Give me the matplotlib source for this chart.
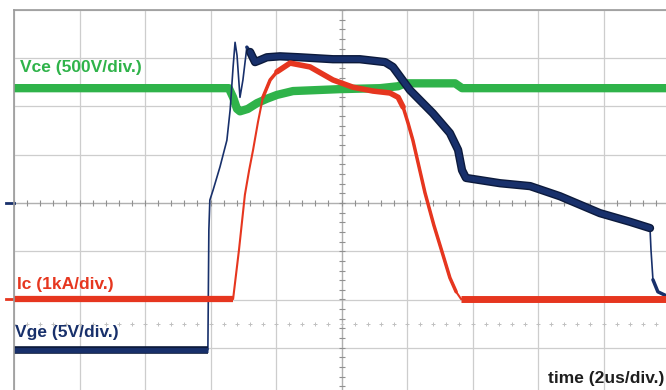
import matplotlib.pyplot as plt
import numpy as np

plt.rcParams['font.family'] = ['Liberation Sans', 'DejaVu Sans']

# time in us (2 us/div), amplitude in divisions (0 = screen centre)
t_vce = [0, 6.56, 6.69, 6.81, 6.90, 7.14, 7.42, 7.72, 8.03, 8.52, 9.95,
         11.18, 11.73, 11.94, 13.47, 13.68, 20]
v_vce = [2.38, 2.38, 2.19, 1.95, 1.90, 1.95, 2.07, 2.16, 2.24, 2.32, 2.36,
         2.38, 2.42, 2.48, 2.48, 2.38, 2.38]

t_ic = [0, 6.69, 6.87, 7.05, 7.18, 7.30, 7.45, 7.60, 7.82, 8.03, 8.43, 9.04,
        9.74, 10.35, 10.96, 11.48, 11.73, 11.88, 12.03, 12.18, 12.55, 12.82,
        13.10, 13.31, 13.50, 13.65, 20]
v_ic = [-1.99, -1.99, -0.97, 0.17, 0.68, 1.10, 1.68, 2.19, 2.55, 2.72, 2.90,
        2.82, 2.55, 2.40, 2.32, 2.28, 2.19, 1.99, 1.66, 1.30, 0.21, -0.46,
        -1.08, -1.55, -1.84, -1.99, -1.99]

t_vge = [0, 5.92, 5.95, 5.98, 6.08, 6.29, 6.50, 6.60, 6.69, 6.75, 6.81, 6.90,
         6.99, 7.11, 7.21, 7.36, 7.51, 7.72, 8.12, 8.73, 9.74, 10.56, 11.33,
         11.57, 12.09, 12.79, 13.31, 13.56, 13.68, 13.80, 14.84, 15.76, 16.67,
         17.89, 18.81, 19.42, 19.45, 19.51, 19.66, 20]
v_vge = [-3.04, -3.04, -0.56, 0.06, 0.27, 0.75, 1.30, 1.93, 2.82, 3.33, 3.06,
         2.19, 2.55, 3.23, 3.13, 2.92, 2.96, 3.02, 3.04, 3.02, 2.98, 2.98,
         2.92, 2.82, 2.34, 1.86, 1.45, 1.10, 0.68, 0.52, 0.41, 0.35, 0.14,
         -0.21, -0.39, -0.52, -0.97, -1.59, -1.84, -1.95]

green = '#2fb34a'
red = '#e6361f'
navy = '#18306b'

fig = plt.figure(figsize=(6.66, 3.9), dpi=100)
ax = fig.add_axes([14/666, -6/390, 655/666, 386/390])
ax.set_xlim(0, 20)
ax.set_ylim(-4, 4)

# graticule
ax.set_xticks(np.arange(0, 21, 2))
ax.set_yticks(np.arange(-4, 5, 1))
ax.grid(True, color='#cdcdcd', lw=0.9)
ax.tick_params(length=0, labelbottom=False, labelleft=False)
for s in ['right', 'bottom']:
    ax.spines[s].set_visible(False)
for s in ['top', 'left']:
    ax.spines[s].set_color('#9a9a9a')
    ax.spines[s].set_linewidth(1.2)

ax.axhline(0, color='#b0b0b0', lw=0.9)
ax.axvline(10, color='#b0b0b0', lw=0.9)
mx = np.arange(0, 20.01, 0.4)
ax.plot(mx, np.zeros_like(mx), '|', color='#909090', ms=4, mew=0.8)
my = np.arange(-4, 4.01, 0.2)
ax.plot(np.full_like(my, 10), my, '_', color='#909090', ms=4, mew=0.8)
ax.plot(mx, np.full_like(mx, -2.5), '+', color='#c0c0c0', ms=3, mew=0.7)

t_vce, v_vce = np.array(t_vce), np.array(v_vce)
t_ic, v_ic = np.array(t_ic), np.array(v_ic)
t_vge, v_vge = np.array(t_vge), np.array(v_vge)

kw = dict(solid_capstyle='round', solid_joinstyle='round')

# Vce
ax.plot(t_vce, v_vce, color=green, lw=6, **kw)

# Vge
ax.plot(t_vge, v_vge, color=navy, lw=1.2, **kw)
ax.plot(t_vge[:2], v_vge[:2], color='#0c1a3c', lw=5.5, solid_capstyle='butt')
ax.plot(t_vge[:2], v_vge[:2], color=navy, lw=3.5, solid_capstyle='butt')
ax.plot(t_vge[13:15], v_vge[13:15], color=navy, lw=2.5, **kw)
ax.plot(t_vge[14:36], v_vge[14:36], color='#0c1a3c', lw=6, **kw)
ax.plot(t_vge[14:36], v_vge[14:36], color=navy, lw=4, **kw)
ax.plot(t_vge[-3:], v_vge[-3:], color=navy, lw=2.5, **kw)

# Ic
ax.plot(t_ic, v_ic, color=red, lw=1.5, **kw)
ax.plot(t_ic[:2], v_ic[:2], color=red, lw=4.5, solid_capstyle='butt')
ax.plot(t_ic[7:10], v_ic[7:10], color=red, lw=2.5, **kw)
ax.plot(t_ic[9:18], v_ic[9:18], color=red, lw=4, **kw)
ax.plot(t_ic[17:-2], v_ic[17:-2], color=red, lw=2.5, **kw)
ax.plot(t_ic[-2:], v_ic[-2:], color=red, lw=5, solid_capstyle='butt')

# channel markers on the left edge
ax.plot([-0.25, 0], [0, 0], color=navy, lw=2, clip_on=False)
ax.plot([-0.25, 0], [-1.99, -1.99], color=red, lw=2, clip_on=False)

ax.text(0.18, 2.71, 'Vce (500V/div.)', color=green, fontsize=12.5,
        fontweight='bold', va='baseline', ha='left')
ax.text(0.09, -1.78, 'Ic (1kA/div.)', color=red, fontsize=12.5,
        fontweight='bold', va='baseline', ha='left')
ax.text(0.03, -2.77, 'Vge (5V/div.)', color=navy, fontsize=12.5,
        fontweight='bold', va='baseline', ha='left')
ax.text(19.85, -3.73, 'time (2us/div.)', color='#1e1e1e', fontsize=12.5,
        fontweight='bold', va='baseline', ha='right')

fig.savefig('out.png', dpi=100)
